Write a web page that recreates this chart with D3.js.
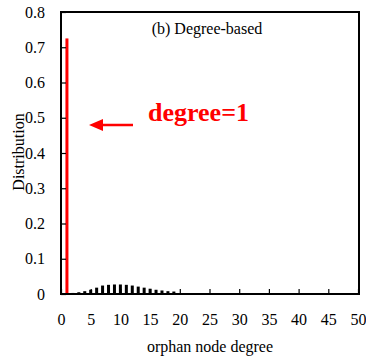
<!DOCTYPE html>
<html>
<head>
<meta charset="utf-8">
<script src="https://cdn.jsdelivr.net/npm/d3@7"></script>
<style>
  html, body { margin: 0; padding: 0; background: #fff; }
  svg { display: block; font-family: "Liberation Serif", "Times New Roman", serif; }
</style>
</head>
<body>
<svg id="chart" width="366" height="363"></svg>
<script>
// Orphan node degree distribution (degree-based)
const degrees = [1, 2, 3, 4, 5, 6, 7, 8, 9, 10, 11, 12, 13, 14, 15, 16, 17, 18, 19, 20];
const shares  = [0.725, 0.003, 0.005, 0.008, 0.012, 0.018, 0.024, 0.026, 0.027, 0.027,
                 0.026, 0.024, 0.021, 0.018, 0.015, 0.012, 0.010, 0.008, 0.007, 0.002];
const xTicks = [0, 5, 10, 15, 20, 25, 30, 35, 40, 45, 50];
const yTicks = [0, 0.1, 0.2, 0.3, 0.4, 0.5, 0.6, 0.7, 0.8];
const highlightDegree = 1;

const svg = d3.select("#chart");
const plotLeft = 61, plotRight = 358, plotTop = 12, plotBottom = 294;
const fontSize = 16;

const x = d3.scaleLinear().domain([0, 50]).range([plotLeft, plotRight]);
const y = d3.scaleLinear().domain([0, 0.8]).range([plotBottom, plotTop]);

// bars
const data = degrees.map((d, i) => ({ degree: d, value: shares[i] }));
const barW = 3;
svg.append("g").selectAll("rect").data(data).join("rect")
  .attr("x", d => x(d.degree) - barW / 2)
  .attr("y", d => y(d.value))
  .attr("width", barW)
  .attr("height", d => y(0) - y(d.value))
  .attr("fill", d => d.degree === highlightDegree ? "#ff0000" : "#000");

// axes with inward ticks
const xAxis = svg.append("g").attr("transform", `translate(0,${plotBottom})`)
  .call(d3.axisBottom(x).tickValues(xTicks).tickSize(-5).tickPadding(20).tickFormat(d3.format("d")));
const yAxis = svg.append("g").attr("transform", `translate(${plotLeft},0)`)
  .call(d3.axisLeft(y).tickValues(yTicks).tickSize(-5).tickPadding(16)
    .tickFormat(d => d === 0 ? "0" : d3.format(".1f")(d)));
[xAxis, yAxis].forEach(g => {
  g.select(".domain").remove();
  g.selectAll(".tick line").attr("stroke", "#000").attr("stroke-width", 1.2);
  g.selectAll(".tick text").attr("font-size", fontSize).attr("fill", "#000")
    .attr("font-family", "Liberation Serif, serif");
});

// frame
svg.append("rect")
  .attr("x", plotLeft).attr("y", plotTop)
  .attr("width", plotRight - plotLeft + 1).attr("height", plotBottom - plotTop)
  .attr("fill", "none").attr("stroke", "#000").attr("stroke-width", 2);

// titles
svg.append("text").attr("x", 207).attr("y", 34).attr("text-anchor", "middle")
  .attr("font-size", fontSize).text("(b) Degree-based");
svg.append("text").attr("x", 210).attr("y", 352).attr("text-anchor", "middle")
  .attr("font-size", fontSize).text("orphan node degree");
svg.append("text").attr("transform", "translate(24,152) rotate(-90)")
  .attr("text-anchor", "middle")
  .attr("font-size", fontSize).text("Distribution");

// annotation
const red = "#ff0000";
svg.append("text").attr("x", 148).attr("y", 121)
  .attr("font-size", 26).attr("font-weight", "bold").attr("fill", red)
  .text("degree=" + highlightDegree);
svg.append("line").attr("x1", 133).attr("y1", 125).attr("x2", 100).attr("y2", 125)
  .attr("stroke", red).attr("stroke-width", 2.5);
svg.append("path").attr("d", "M89,125 L103,119 L103,131 Z").attr("fill", red);
</script>
</body>
</html>
